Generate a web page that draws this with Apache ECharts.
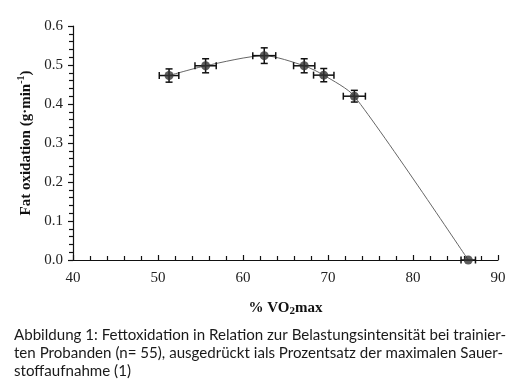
<!DOCTYPE html>
<html><head><meta charset="utf-8">
<script src="https://cdn.jsdelivr.net/npm/echarts@6/dist/echarts.min.js"></script>
<style>html,body{margin:0;padding:0;background:#fff}#c{width:520px;height:386px}</style>
</head><body><div id="c"></div>
<script>
const vo2 = [51.3, 55.6, 62.5, 67.2, 69.5, 73.1, 86.5];
const fatOx = [0.473, 0.498, 0.524, 0.498, 0.474, 0.420, 0.0];
const vo2Err = [1.15, 1.25, 1.35, 1.25, 1.2, 1.3, 0.85];
const fatErr = [0.017, 0.018, 0.02, 0.018, 0.017, 0.015, 0.0];
const xTicks = [40, 50, 60, 70, 80, 90];
const yTicks = [0.0, 0.1, 0.2, 0.3, 0.4, 0.5, 0.6];
const captionLines = [
  'Abbildung 1: Fettoxidation in Relation zur Belastungsintensität bei trainier-',
  'ten Probanden (n= 55), ausgedrückt ials Prozentsatz der maximalen Sauer-',
  'stoffaufnahme (1)'
];

const serif = '"Liberation Serif", "DejaVu Serif", serif';
const pts = vo2.map((x, i) => [x, fatOx[i]]);
const errData = vo2.map((x, i) => [x, fatOx[i], vo2Err[i], fatErr[i]]);

const chart = echarts.init(document.getElementById('c'), null, {renderer: 'canvas'});
chart.setOption({
  animation: false,
  backgroundColor: '#fff',
  grid: {left: 73, right: 22, top: 26, bottom: 126},
  xAxis: {
    type: 'value', min: xTicks[0], max: xTicks[xTicks.length - 1], interval: 10,
    axisLine: {lineStyle: {color: '#111', width: 1.2}},
    axisTick: {inside: true, length: 5, lineStyle: {color: '#111', width: 1.2}},
    minorTick: {show: true, splitNumber: 5, length: 4, lineStyle: {color: '#111', width: 1.2}},
    splitLine: {show: false},
    axisLabel: {fontFamily: serif, fontSize: 15, color: '#222', margin: 11},
    name: '{a|% VO}{s|2}{a|max}', nameLocation: 'middle', nameGap: 40,
    nameTextStyle: {rich: {
      a: {fontFamily: serif, fontSize: 15, fontWeight: 'bold', color: '#111'},
      s: {fontFamily: serif, fontSize: 11, fontWeight: 'bold', color: '#111', padding: [6, 0, 0, 0]}
    }}
  },
  yAxis: {
    type: 'value', min: 0, max: 0.6, interval: 0.1,
    axisLine: {show: true, lineStyle: {color: '#111', width: 1.2}},
    axisTick: {show: true, inside: false, length: 5, lineStyle: {color: '#111', width: 1.2}},
    minorTick: {show: true, splitNumber: 5, length: 4, lineStyle: {color: '#111', width: 1.2}},
    splitLine: {show: false},
    axisLabel: {fontFamily: serif, fontSize: 15, color: '#222', margin: 10,
      formatter: v => v.toFixed(1)},
    name: '{a|Fat oxidation (g·min}{s|-1}{a|)}', nameLocation: 'middle', nameGap: 36, nameRotate: 90,
    nameTextStyle: {rich: {
      a: {fontFamily: serif, fontSize: 15, fontWeight: 'bold', color: '#111'},
      s: {fontFamily: serif, fontSize: 10, fontWeight: 'bold', color: '#111', padding: [0, 0, 8, 0]}
    }}
  },
  series: [
    {
      type: 'line', data: pts, smooth: 0.25, symbol: 'none',
      lineStyle: {color: '#666', width: 1}, z: 1
    },
    {
      type: 'custom', data: errData, z: 3,
      renderItem: function (params, api) {
        const x = api.value(0), y = api.value(1), ex = api.value(2), ey = api.value(3);
        const c = api.coord([x, y]);
        const l = api.coord([x - ex, y]), r = api.coord([x + ex, y]);
        const t = api.coord([x, y + ey]), b = api.coord([x, y - ey]);
        const cap = 3.5;
        const st = {stroke: '#111', lineWidth: 1.5};
        const ch = [];
        ch.push({type: 'line', shape: {x1: l[0], y1: c[1], x2: r[0], y2: c[1]}, style: st});
        ch.push({type: 'line', shape: {x1: l[0], y1: c[1] - cap, x2: l[0], y2: c[1] + cap}, style: st});
        ch.push({type: 'line', shape: {x1: r[0], y1: c[1] - cap, x2: r[0], y2: c[1] + cap}, style: st});
        if (ey > 0) {
          ch.push({type: 'line', shape: {x1: c[0], y1: t[1], x2: c[0], y2: b[1]}, style: st});
          ch.push({type: 'line', shape: {x1: c[0] - cap, y1: t[1], x2: c[0] + cap, y2: t[1]}, style: st});
          ch.push({type: 'line', shape: {x1: c[0] - cap, y1: b[1], x2: c[0] + cap, y2: b[1]}, style: st});
        }
        return {type: 'group', children: ch};
      }
    },
    {
      type: 'scatter', data: pts, symbol: 'circle', symbolSize: 9,
      itemStyle: {color: '#333'}, z: 4
    }
  ],
  graphic: captionLines.map((t, i) => ({
    type: 'text', left: 14, top: 328 + i * 18,
    style: {text: t, fontFamily: '"Lato", "Open Sans", sans-serif', fontSize: 15.1, fill: '#1a1a1a'}
  }))
});
</script></body></html>
